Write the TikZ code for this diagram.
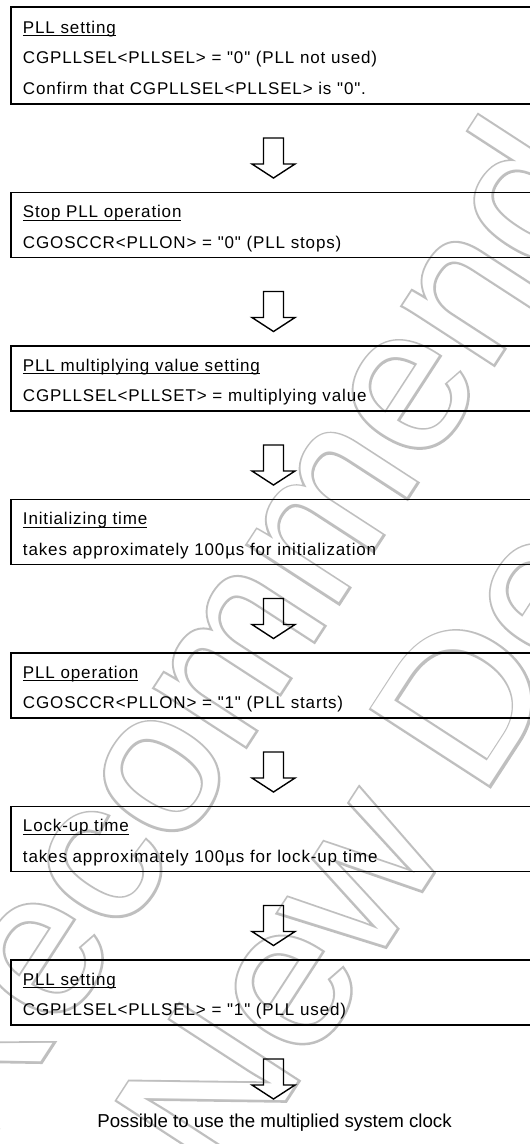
\documentclass[tikz,border=0pt]{standalone}
\usepackage{fontspec}
\setmainfont{Liberation Sans}
\newfontfamily\boxfont{Liberation Sans}
\newfontfamily\wmfont{Liberation Sans}
\newfontfamily\wmedgefont{Liberation Sans}[FakeBold=2.2]
\usetikzlibrary{positioning}

\newsavebox{\titlebox}
\newcommand{\stepstrut}{\rule[-7.25pt]{0pt}{30.5pt}}
\newcommand{\steptitle}[1]{\stepstrut\sbox{\titlebox}{#1}%
  \rlap{\rule[-3pt]{\wd\titlebox}{0.9pt}}\usebox{\titlebox}}

\tikzset{
  stepbox/.style={draw, line width=1.4pt, anchor=north west, outer sep=0pt,
    text width=501pt, minimum height=65pt, inner xsep=12pt, inner ysep=0pt,
    align=left, font=\boxfont\fontsize{17}{30.5}\selectfont\addfontfeatures{LetterSpace=5}},
  flowarrow/.style={line width=1.4pt, line join=miter},
  endtext/.style={font=\boxfont\fontsize{18.7}{22}\selectfont, inner sep=0pt},
  wmark/.style={anchor=base, rotate=57, inner sep=0pt},
  wmedge/.style={wmark, text=black!25, font=\wmedgefont\fontsize{205}{236}\selectfont},
  wmfill/.style={wmark, text=white, font=\wmfont\fontsize{205}{236}\selectfont},
  pics/downarrow/.style={code={
    \draw[flowarrow] (-10,0) -- (10,0) -- (10,-26) -- (21.5,-26) -- (0,-40)
      -- (-21.5,-26) -- (-10,-26) -- cycle;}}
}

\begin{document}
\begin{tikzpicture}[x=1pt,y=1pt]
\clip (0,0) rectangle (530,-1144);

% watermark: grey rim, white inside
\node[wmedge] (wmrim1) at (254,-734) {Not Recommended};
\node[wmfill] (wmline1) at (254,-734) {Not Recommended};
\node[wmedge] (wmrim2) at (447,-852) {for New Design};
\node[wmfill] (wmline2) at (447,-852) {for New Design};

% steps
\node[stepbox, minimum height=97pt] (pllsel0) at (11,-7)
  {\steptitle{PLL setting}\\
   \stepstrut CGPLLSEL<PLLSEL> = "0" (PLL not used)\\
   \stepstrut Confirm that CGPLLSEL<PLLSEL> is "0".};
\node[stepbox, below=88.5 of pllsel0] (pllstop)
  {\steptitle{Stop PLL operation}\\
   \stepstrut CGOSCCR<PLLON> = "0" (PLL stops)};
\node[stepbox, below=88.5 of pllstop] (pllmult)
  {\steptitle{PLL multiplying value setting}\\
   \stepstrut CGPLLSEL<PLLSET> = multiplying value};
\node[stepbox, below=88.5 of pllmult] (inittime)
  {\steptitle{Initializing time}\\
   \stepstrut takes approximately 100µs for initialization};
\node[stepbox, below=88.5 of inittime] (pllstart)
  {\steptitle{PLL operation}\\
   \stepstrut CGOSCCR<PLLON> = "1" (PLL starts)};
\node[stepbox, below=88.5 of pllstart] (lockup)
  {\steptitle{Lock-up time}\\
   \stepstrut takes approximately 100µs for lock-up time};
\node[stepbox, below=88.5 of lockup] (pllsel1)
  {\steptitle{PLL setting}\\
   \stepstrut CGPLLSEL<PLLSEL> = "1" (PLL used)};
\node[endtext, anchor=base] (clockok) at ([shift={(1,-102)}]pllsel1.south)
  {Possible to use the multiplied system clock};

% arrows between steps
\pic at ([yshift=-34]pllsel0.south) {downarrow};
\pic at ([yshift=-34]pllstop.south) {downarrow};
\pic at ([yshift=-34]pllmult.south) {downarrow};
\pic at ([yshift=-34]inittime.south) {downarrow};
\pic at ([yshift=-34]pllstart.south) {downarrow};
\pic at ([yshift=-34]lockup.south) {downarrow};
\pic at ([yshift=-34]pllsel1.south) {downarrow};
\end{tikzpicture}
\end{document}
